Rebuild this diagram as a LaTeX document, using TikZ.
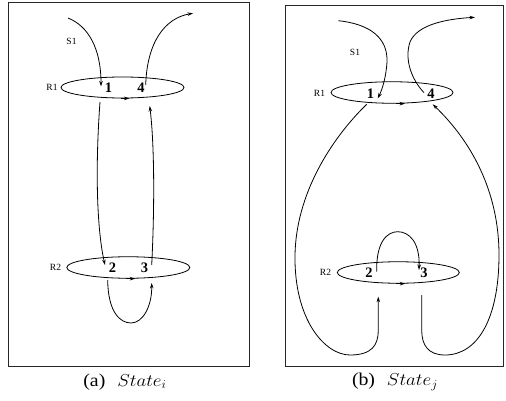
\documentclass[tikz,border=0pt]{standalone}
\usepackage{fontspec}
\setmainfont{Liberation Serif}
\usetikzlibrary{arrows.meta,shapes.geometric}
\tikzset{
  frame/.style={draw=black!85,line width=1pt},
  ring/.style={draw,ellipse,line width=0.8pt,inner sep=0pt},
  conn/.style={line width=0.8pt,-{Stealth[length=5.5pt,width=3.5pt]}},
  lab/.style={font=\fontsize{9.5}{9.5}\selectfont,inner sep=0pt},
  num/.style={font=\fontsize{14.5}{14.5}\selectfont\bfseries,inner sep=0pt},
  captext/.style={font=\fontsize{18}{18}\selectfont,inner sep=0pt,xscale=1.1}
}
\begin{document}
\begin{tikzpicture}[x=1pt,y=-1pt]
\useasboundingbox (0,0) rectangle (506,401);
% frames
\draw[frame] (8.5,3) rectangle (249,366);
\draw[frame] (285,6) rectangle (503,366);
% ---------- left panel ----------
\node[ring,minimum width=123pt,minimum height=21pt] (ra1) at (122.5,87.5) {};
\node[ring,minimum width=123pt,minimum height=21.5pt] (ra2) at (128.3,267.5) {};
\node[lab] (la1) at (52,87.5) {R1};
\node[lab] (la2) at (55.5,267.5) {R2};
\node[lab] (las) at (71.5,41) {S1};
\node[num] (na1) at (108.5,88) {1};
\node[num] (na4) at (141,88) {4};
\node[num] (na2) at (112.5,268) {2};
\node[num] (na3) at (144.5,268) {3};
\coordinate (ainS) at (68,18);
\coordinate (ainE) at (101,86.5);
\coordinate (aoutS) at (145.7,85);
\coordinate (aoutE) at (193,13.3);
\coordinate (adS) at (100,102);
\coordinate (adE) at (105,265);
\coordinate (auS) at (151.7,265);
\coordinate (auE) at (149.7,106);
\coordinate (alS) at (107.7,280);
\coordinate (alE) at (151.7,283);
\draw[conn] (ainS) .. controls (88,26) and (101,48) .. (ainE);
\draw[conn] (aoutS) .. controls (147,42) and (165,18) .. (aoutE);
\draw[conn] (adS) .. controls (95,170) and (97,230) .. (adE);
\draw[conn] (auS) .. controls (155,200) and (154,140) .. (auE);
\draw[conn] (alS) .. controls (108,312) and (120,323) .. (131,323) .. controls (143,323) and (152,306) .. (alE);
\draw[conn] ([xshift=-2pt]ra1.south) -- ([xshift=7pt]ra1.south);
\draw[conn] ([xshift=-2pt]ra2.south) -- ([xshift=7pt]ra2.south);
\node[captext] (capa) at (125,382) {(a)\hspace{0.6em}$State_i$};
% ---------- right panel ----------
\node[ring,minimum width=122pt,minimum height=21.5pt] (rb1) at (392,92.5) {};
\node[ring,minimum width=122pt,minimum height=21.5pt] (rb2) at (398.3,272.5) {};
\node[lab] (lb1) at (319.5,93) {R1};
\node[lab] (lb2) at (325.5,272.5) {R2};
\node[lab] (lbs) at (355,52) {S1};
\node[num] (nb1) at (370.5,94) {1};
\node[num] (nb4) at (431,94) {4};
\node[num] (nb2) at (369,273) {2};
\node[num] (nb3) at (424,273) {3};
\coordinate (binS) at (338.3,20.7);
\coordinate (binE) at (377.7,98.3);
\coordinate (boutS) at (424,92.7);
\coordinate (boutE) at (475,17.3);
\coordinate (blS) at (366.7,104.3);
\coordinate (blE) at (378.3,296.7);
\coordinate (brS) at (421.7,295);
\coordinate (brE) at (432.7,104.3);
\coordinate (baS) at (376.7,271.7);
\coordinate (baE) at (419,270);
\draw[conn] (binS) .. controls (370,24) and (388,38) .. (387,62) .. controls (386,78) and (382,90) .. (binE);
\draw[conn] (boutS) .. controls (412,80) and (404,60) .. (410,42) .. controls (417,25) and (445,19) .. (boutE);
\draw[conn] (blS) .. controls (330,140) and (296,195) .. (295,255) .. controls (294,320) and (325,355) .. (350,355) .. controls (372,355) and (378.3,345) .. (378.3,330) -- (blE);
\draw[conn] (brS) -- (421.7,330) .. controls (421.7,345) and (428,355) .. (445,355) .. controls (478,355) and (499,318) .. (499,255) .. controls (499,190) and (470,140) .. (brE);
\draw[conn] (baS) .. controls (376,242) and (387,231.7) .. (397.7,231.7) .. controls (409,231.7) and (420,242) .. (baE);
\draw[conn] ([xshift=4pt]rb1.south) -- ([xshift=13pt]rb1.south);
\draw[conn] ([xshift=-2pt]rb2.south) -- ([xshift=7pt]rb2.south);
\node[captext] (capb) at (395,382) {(b)\hspace{0.6em}$State_j$};
\end{tikzpicture}
\end{document}
